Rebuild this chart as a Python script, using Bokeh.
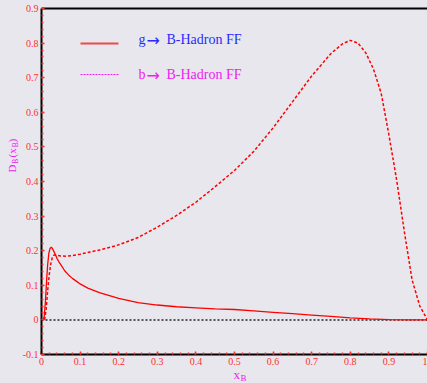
import numpy as np
from bokeh.plotting import figure
from bokeh.models import Label, FixedTicker, Range1d
from bokeh.embed import file_html
from bokeh.resources import INLINE

# ---------------- data ----------------
x_g = [0.0, 0.004, 0.007, 0.010, 0.013, 0.016, 0.019, 0.022, 0.025, 0.028,
       0.032, 0.036, 0.040, 0.045, 0.050, 0.060, 0.070, 0.080, 0.090, 0.100,
       0.120, 0.150, 0.200, 0.250, 0.300, 0.350, 0.400, 0.450, 0.500, 0.550,
       0.600, 0.650, 0.700, 0.750, 0.800, 0.850, 0.900, 0.950, 1.000]
y_g = [0.0, 0.0, 0.010, 0.050, 0.110, 0.160, 0.192, 0.206, 0.210, 0.207,
       0.198, 0.189, 0.178, 0.168, 0.160, 0.142, 0.130, 0.120, 0.112, 0.104,
       0.092, 0.079, 0.062, 0.050, 0.043, 0.038, 0.035, 0.032, 0.030, 0.026,
       0.022, 0.018, 0.014, 0.010, 0.006, 0.003, 0.001, 0.0, 0.0]

x_b = [0.008, 0.012, 0.016, 0.020, 0.024, 0.028, 0.032, 0.036, 0.040, 0.050,
       0.065, 0.080, 0.100, 0.125, 0.150, 0.175, 0.200, 0.250, 0.300, 0.350,
       0.400, 0.450, 0.500, 0.550, 0.600, 0.650, 0.700, 0.750, 0.780, 0.800,
       0.820, 0.840, 0.860, 0.880, 0.900, 0.920, 0.940, 0.960, 0.980, 1.000]
y_b = [0.0, 0.030, 0.085, 0.130, 0.162, 0.180, 0.187, 0.188, 0.187, 0.185,
       0.184, 0.186, 0.190, 0.196, 0.202, 0.209, 0.217, 0.238, 0.268, 0.302,
       0.340, 0.385, 0.432, 0.487, 0.555, 0.630, 0.705, 0.770, 0.798, 0.808,
       0.800, 0.772, 0.725, 0.655, 0.535, 0.405, 0.255, 0.116, 0.040, 0.0]

# legend texts: parton, arrow, target
series_partons = ["g", "b"]
series_target = "B-Hadron FF"
arrow = "\u2192"

x_ticks = [0.0, 0.1, 0.2, 0.3, 0.4, 0.5, 0.6, 0.7, 0.8, 0.9, 1.0]
x_tick_labels = ["0", "0.1", "0.2", "0.3", "0.4", "0.5", "0.6", "0.7", "0.8", "0.9", "1"]
y_ticks = [-0.1, 0.0, 0.1, 0.2, 0.3, 0.4, 0.5, 0.6, 0.7, 0.8, 0.9]
y_tick_labels = ["-0.1", "0", "0.1", "0.2", "0.3", "0.4", "0.5", "0.6", "0.7", "0.8", "0.9"]

# ---------------- layout / style ----------------
BG = "#e8e7ed"
RED = "#ff0000"
TICKRED = "#ff3030"
MAG = "#f020f0"
BLUE = "#2a2aff"
FONT = "Liberation Serif"

W, H = 427, 383
L, T, BOT = 41, 8, 29            # pixel position of the axes box inside the canvas
X0, X1, Y0, Y1 = 0.0, 1.0, -0.1, 0.9
FW, FH = W - L, H - T - BOT      # pixels per data span
XS = X0 - L / FW * (X1 - X0)     # data value at canvas left edge
YE = Y1 + T / FH * (Y1 - Y0)     # data value at canvas top edge
YS = Y0 - BOT / FH * (Y1 - Y0)   # data value at canvas bottom edge


def px2x(px):
    return X0 + (px - L) / FW * (X1 - X0)


def py2y(py):
    return Y1 - (py - T) / FH * (Y1 - Y0)


# the frame covers the whole canvas; the axes are drawn at fixed data locations
p = figure(width=W, height=H, x_range=Range1d(XS, X1), y_range=Range1d(YS, YE),
           output_backend="svg", toolbar_location=None,
           min_border_left=0, min_border_right=0, min_border_top=0, min_border_bottom=0,
           background_fill_color=BG, border_fill_color=BG, outline_line_color=None)
p.grid.visible = False

minor_x = [round(v, 3) for v in np.arange(X0, X1 + 1e-4, 0.02)]
minor_y = [round(v, 3) for v in np.arange(Y0, Y1 + 1e-4, 0.02)]
p.xaxis.ticker = FixedTicker(ticks=x_ticks, minor_ticks=minor_x)
p.yaxis.ticker = FixedTicker(ticks=y_ticks, minor_ticks=minor_y)
p.xaxis.major_label_overrides = {t: s for t, s in zip(x_ticks, x_tick_labels)}
p.yaxis.major_label_overrides = {t: s for t, s in zip(y_ticks, y_tick_labels)}
p.xaxis.fixed_location = Y0
p.yaxis.fixed_location = X0
p.xaxis.bounds = (X0, X1)
p.yaxis.bounds = (Y0, Y1)

for ax in (p.xaxis, p.yaxis):
    ax.axis_line_color = "black"
    ax.axis_line_width = 2
    ax.major_tick_line_color = TICKRED
    ax.major_tick_line_width = 1.5
    ax.major_tick_in = 3
    ax.major_tick_out = 0
    ax.minor_tick_line_color = TICKRED
    ax.minor_tick_line_width = 1.5
    ax.minor_tick_in = 2
    ax.minor_tick_out = 0
    ax.major_label_text_color = TICKRED
    ax.major_label_text_font = FONT
    ax.major_label_text_font_size = "10px"
    ax.major_label_standoff = 3

# zero line and top border of the box
p.line([X0, X1], [0, 0], line_color="#555555", line_width=2, line_dash="2 2")
p.line([X0, X1], [Y1, Y1], line_color="black", line_width=2)

# curves
p.line(x_g, y_g, line_color=RED, line_width=1.3)
p.line(x_b, y_b, line_color=RED, line_width=1.5, line_dash="3 2")

# legend (drawn by hand)
p.line([px2x(80), px2x(118)], [py2y(43), py2y(43)], line_color="#f04848", line_width=2)
p.line([px2x(80), px2x(118)], [py2y(74), py2y(74)], line_color=MAG, line_width=1.2,
       line_dash="2 1")
for part, col, cy in ((series_partons[0], BLUE, 39.0), (series_partons[1], MAG, 74.0)):
    p.add_layout(Label(x=px2x(138), y=py2y(cy), text=part, text_color=col,
                       text_font=FONT, text_font_size="14px", text_baseline="middle"))
    p.add_layout(Label(x=px2x(146), y=py2y(cy + 1), text=arrow, text_color=col,
                       text_font="DejaVu Sans", text_font_size="16px",
                       text_baseline="middle"))
    p.add_layout(Label(x=px2x(166), y=py2y(cy), text=series_target, text_color=col,
                       text_font=FONT, text_font_size="14px", text_baseline="middle"))

# y axis title D_B(x_B)
ylab = [("D", 11, 172, "11px"), ("B", 14.5, 163.5, "8px"), ("(x", 11, 157, "11px"),
        ("B", 14.5, 147, "8px"), (")", 11, 142, "11px")]
for txt, bx, sy, fs in ylab:
    p.add_layout(Label(x=px2x(bx), y=py2y(sy), text=txt, angle=np.pi / 2,
                       text_color=MAG, text_font=FONT, text_font_size=fs,
                       text_align="left", text_baseline="alphabetic"))

# x axis title x_B
p.add_layout(Label(x=px2x(233), y=py2y(374), text="x", text_color=MAG, text_font=FONT,
                   text_font_size="13px", text_baseline="alphabetic"))
p.add_layout(Label(x=px2x(240), y=py2y(377.5), text="B", text_color=MAG, text_font=FONT,
                   text_font_size="9px", text_baseline="alphabetic"))

html = file_html(p, INLINE, title="B-Hadron FF")
html = html.replace("</head>", "<style>html,body{margin:0;padding:0;background:%s;overflow:hidden}</style></head>" % BG, 1)
open("out.html", "w").write(html)
